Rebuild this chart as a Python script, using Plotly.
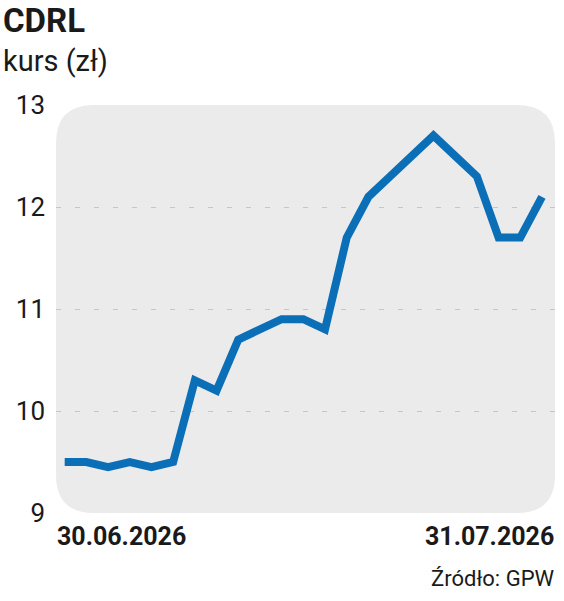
import plotly.graph_objects as go

dates = ["30.06.2026", "01.07.2026", "02.07.2026", "03.07.2026", "06.07.2026",
         "07.07.2026", "08.07.2026", "09.07.2026", "10.07.2026", "13.07.2026",
         "14.07.2026", "15.07.2026", "16.07.2026", "17.07.2026", "20.07.2026",
         "21.07.2026", "22.07.2026", "23.07.2026", "24.07.2026", "27.07.2026",
         "28.07.2026", "29.07.2026", "31.07.2026"]
prices = [9.5, 9.5, 9.45, 9.5, 9.45, 9.5, 10.3, 10.2, 10.7, 10.8, 10.9, 10.9,
          10.8, 11.7, 12.1, 12.3, 12.5, 12.7, 12.5, 12.3, 11.7, 11.7, 12.1]
y_ticks = [9, 10, 11, 12, 13]
title = "CDRL"
subtitle = "kurs (zł)"
source = "Źródło: GPW"

W, H = 564, 601
plot_left, plot_right, plot_top, plot_bottom = 56, 555, 105, 513
L = plot_left
R = W - plot_right
T = plot_top
B = H - plot_bottom
pw, ph = W - L - R, H - T - B

def px_x(x):
    return (x - L) / pw

def px_y(y):
    return (H - B - y) / ph

FONT = "Roboto"
fig = go.Figure()
fig.add_trace(go.Scatter(
    x=list(range(len(dates))), y=prices, mode="lines",
    line=dict(color="#0b6fb8", width=8, shape="linear"),
    hoverinfo="skip"))

rx, ry = 38 / pw, 38 / ph
path = (f"M {rx},0 L {1-rx},0 Q 1,0 1,{ry} L 1,{1-ry} Q 1,1 {1-rx},1 "
        f"L {rx},1 Q 0,1 0,{1-ry} L 0,{ry} Q 0,0 {rx},0 Z")
fig.add_shape(type="path", path=path, xref="paper", yref="paper",
              fillcolor="#ebebeb", line=dict(width=0), layer="below")

ann = []
ann.append(dict(text=f"<b>{title}</b>", x=px_x(2), y=px_y(0), xref="paper", yref="paper",
                xanchor="left", yanchor="top", showarrow=False, borderpad=0,
                font=dict(family=FONT, size=33, color="#1a1a1a")))
ann.append(dict(text=subtitle, x=px_x(1), y=px_y(61), xref="paper", yref="paper",
                xanchor="left", yanchor="middle", showarrow=False,
                font=dict(family=FONT, size=29, color="#1a1a1a")))
ann.append(dict(text=f"<b>{dates[0]}</b>", x=px_x(55), y=px_y(536), xref="paper", yref="paper",
                xanchor="left", yanchor="middle", showarrow=False,
                font=dict(family=FONT, size=25, color="#1a1a1a")))
ann.append(dict(text=f"<b>{dates[-1]}</b>", x=px_x(556), y=px_y(536), xref="paper", yref="paper",
                xanchor="right", yanchor="middle", showarrow=False,
                font=dict(family=FONT, size=25, color="#1a1a1a")))
ann.append(dict(text=source, x=px_x(557), y=px_y(578), xref="paper", yref="paper",
                xanchor="right", yanchor="middle", showarrow=False,
                font=dict(family=FONT, size=22, color="#1a1a1a")))

fig.update_layout(
    width=W, height=H,
    margin=dict(l=L, r=R, t=T, b=B),
    paper_bgcolor="white", plot_bgcolor="rgba(0,0,0,0)",
    showlegend=False,
    annotations=ann,
    xaxis=dict(range=[-0.4, 22.6], showgrid=False, zeroline=False,
               showticklabels=False, showline=False, fixedrange=True),
    yaxis=dict(range=[9, 13], tickvals=y_ticks, ticktext=[str(v) for v in y_ticks],
               showgrid=True, gridcolor="#c6c6c6", griddash="5px,14px", gridwidth=1,
               zeroline=False, showline=False, ticks="", ticklabelstandoff=10,
               tickfont=dict(family=FONT, size=26, color="#1a1a1a"), fixedrange=True),
)
fig.write_html("out.html", config={"displayModeBar": False},
               post_script="document.body.style.margin='0';document.body.style.overflow='hidden';")
